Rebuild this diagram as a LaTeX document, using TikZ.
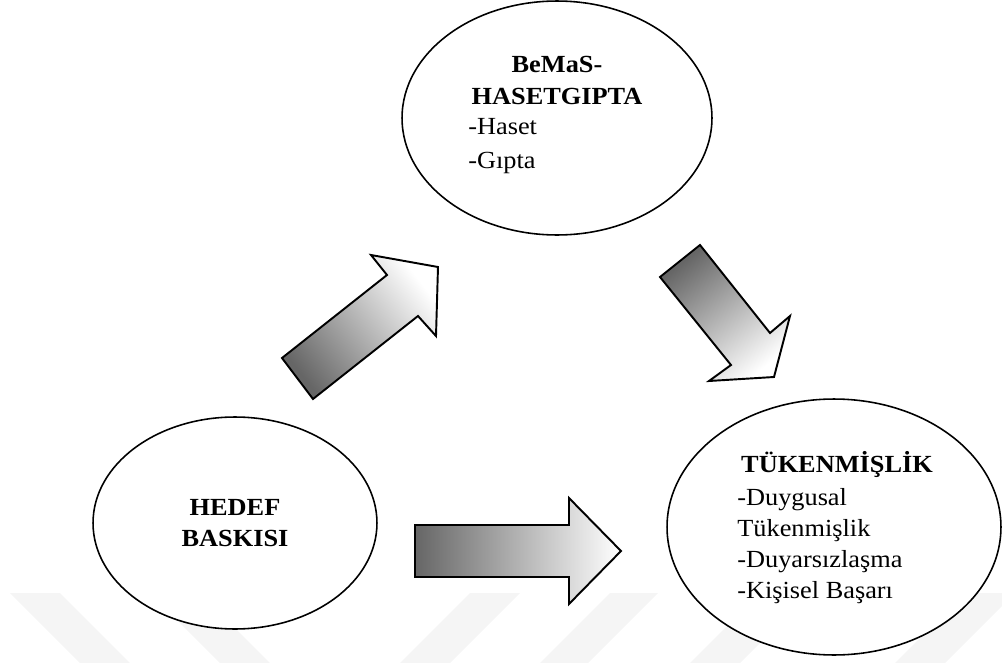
\documentclass[tikz,border=0pt]{standalone}
\usepackage{fontspec}
\setmainfont{Liberation Serif}[FakeStretch=1.07]
\usetikzlibrary{shapes.geometric}

\begin{document}
\begin{tikzpicture}[
    x=0.02cm,
    y=-0.02cm,
    oval/.style={ellipse,draw,fill=white,line width=0.9pt,inner sep=0pt},
    blockarrow/.style={draw,line width=1.1pt,line join=miter,
      top color=white,bottom color=black!60},
    wmband/.style={fill=black!4},
    bodytext/.style={font=\fontsize{14}{17.6}\selectfont,inner sep=0pt},
    titletext/.style={font=\fontsize{14}{18}\selectfont\bfseries,inner sep=0pt}
  ]
    \useasboundingbox (0,0) rectangle (1002,663);

    % faint background bands
    \path[wmband] (10,593) -- (60,593) -- (130,663) -- (80,663) -- cycle;
    \path[wmband] (150,593) -- (200,593) -- (270,663) -- (220,663) -- cycle;
    \path[wmband] (470,593) -- (520,593) -- (450,663) -- (400,663) -- cycle;
    \path[wmband] (610,593) -- (658,593) -- (588,663) -- (540,663) -- cycle;
    \path[wmband] (760,593) -- (810,593) -- (740,663) -- (690,663) -- cycle;
    \path[wmband] (965,593) -- (1015,593) -- (945,663) -- (895,663) -- cycle;

    \node[oval,minimum width=6.2cm,minimum height=4.68cm] (haset) at (557,118) {};
    \node[titletext,align=center,anchor=north] (hasettitle) at (557,56)
      {BeMaS-\\HASETGIPTA};
    \node[bodytext,align=left,anchor=north west] (hasetlist) at (468,118)
      {-Haset\\[2pt]-Gıpta};

    \node[oval,minimum width=5.68cm,minimum height=4.24cm,
      titletext,align=center] (hedef) at (235,523) {HEDEF\\BASKISI};

    \node[oval,minimum width=6.68cm,minimum height=5.12cm] (tuken) at (834,527) {};
    \node[titletext,anchor=base] (tukentitle) at (837,472) {TÜKENMİŞLİK};
    \node[bodytext,align=left,anchor=north west] (tukenlist) at (737,488)
      {-Duygusal\\Tükenmişlik\\-Duyarsızlaşma\\-Kişisel Başarı};

    \path[blockarrow,shading angle=-52]
      (282,358) -- (387,275) -- (371,255) -- (438,267) -- (436,336)
      -- (418,316) -- (313,399) -- cycle;
    \path[blockarrow,shading angle=-141]
      (660,277) -- (700,245) -- (770,333) -- (790,316) -- (774,377)
      -- (709,381) -- (731,365) -- cycle;
    \path[blockarrow,shading angle=-90]
      (415,525) -- (569,525) -- (569,498) -- (621,551) -- (569,604)
      -- (569,577) -- (415,577) -- cycle;
  \end{tikzpicture}
\end{document}
